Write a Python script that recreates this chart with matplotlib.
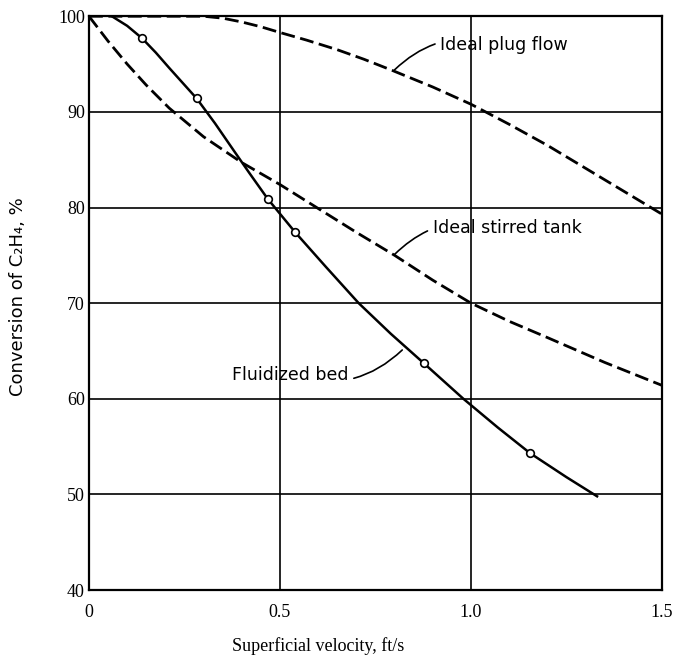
import matplotlib
matplotlib.use("Agg")
import matplotlib.pyplot as plt

# values
bed_pts_x = [0.139, 0.282, 0.468, 0.54, 0.877, 1.155]
bed_pts_y = [97.7, 91.4, 80.9, 77.4, 63.7, 54.3]
bed_x = [0.06, 0.1, 0.139, 0.175, 0.21, 0.282, 0.33, 0.38, 0.42, 0.468, 0.54, 0.62,
         0.706, 0.79, 0.877, 0.98, 1.07, 1.155, 1.25, 1.33]
bed_y = [100, 99.0, 97.7, 96.2, 94.6, 91.4, 88.8, 85.9, 83.6, 80.9, 77.4, 73.8,
         70.0, 66.8, 63.7, 60.0, 57.0, 54.3, 51.8, 49.8]

plug_x = [0, 0.3, 0.35, 0.4, 0.45, 0.5, 0.57, 0.65, 0.72, 0.79, 0.9, 1.0,
          1.1, 1.2, 1.3, 1.4, 1.5]
plug_y = [100, 100, 99.8, 99.4, 98.9, 98.3, 97.5, 96.5, 95.5, 94.4, 92.6, 90.8,
          88.7, 86.5, 84.1, 81.7, 79.3]

stir_x = [0, 0.05, 0.1, 0.15, 0.21, 0.3, 0.4, 0.5, 0.6, 0.7, 0.8, 0.9, 1.0,
          1.1, 1.2, 1.35, 1.5]
stir_y = [100, 97.4, 95.0, 92.8, 90.4, 87.4, 84.7, 82.4, 79.9, 77.4, 75.0, 72.4, 70.0,
          68.1, 66.4, 63.8, 61.4]

xticks = [0, 0.5, 1.0, 1.5]
xticklabels = ["0", "0.5", "1.0", "1.5"]
yticks = [40, 50, 60, 70, 80, 90, 100]

serif = ["Liberation Serif", "DejaVu Serif"]
sans = ["DejaVu Sans"]

fig = plt.figure(figsize=(6.79, 6.58), dpi=100)
ax = fig.add_axes([0.131, 0.1033, 0.844, 0.872])

for y in [50, 60, 70, 80, 90]:
    ax.axhline(y, color="black", lw=1.2, zorder=1)
for x in [0.5, 1.0]:
    ax.axvline(x, color="black", lw=1.2, zorder=1)

dash = (0, (5, 2))
ax.plot(plug_x, plug_y, color="black", lw=2, linestyle=dash, zorder=3)
ax.plot(stir_x, stir_y, color="black", lw=2, linestyle=dash, zorder=3)
ax.plot(bed_x, bed_y, color="black", lw=1.8, zorder=3)
ax.plot(bed_pts_x, bed_pts_y, linestyle="none", marker="o", ms=5.5,
        mfc="white", mec="black", mew=1.2, zorder=4)

ax.set_xlim(0, 1.5)
ax.set_ylim(40, 100)
ax.set_xticks(xticks)
ax.set_xticklabels(xticklabels)
ax.set_yticks(yticks)
ax.tick_params(length=0, labelsize=13)
ax.tick_params(axis="x", pad=10)
ax.tick_params(axis="y", pad=3)
for lab in ax.get_xticklabels() + ax.get_yticklabels():
    lab.set_family(serif)
for s in ax.spines.values():
    s.set_linewidth(1.6)

ax.set_xlabel("Superficial velocity, ft/s", family=serif, fontsize=13)
ax.xaxis.set_label_coords(0.40, -0.082)
ax.set_ylabel("Conversion of C\u2082H\u2084, %", family=sans, fontsize=13)
ax.yaxis.set_label_coords(-0.108, 0.512)

arrow = dict(arrowstyle="-", color="black", lw=1.2, connectionstyle="arc3,rad=0.3",
             shrinkA=2, shrinkB=0)
ax.annotate("Ideal plug flow", xy=(0.80, 94.4), xytext=(0.92, 97.0),
            ha="left", va="center", family=sans, fontsize=12.5, arrowprops=arrow)
ax.annotate("Ideal stirred tank", xy=(0.80, 75.1), xytext=(0.90, 77.9),
            ha="left", va="center", family=sans, fontsize=12.5, arrowprops=arrow)
ax.annotate("Fluidized bed", xy=(0.82, 65.1), xytext=(0.679, 62.5),
            ha="right", va="center", family=sans, fontsize=12.5, arrowprops=arrow)

fig.savefig("out.png", dpi=100)
